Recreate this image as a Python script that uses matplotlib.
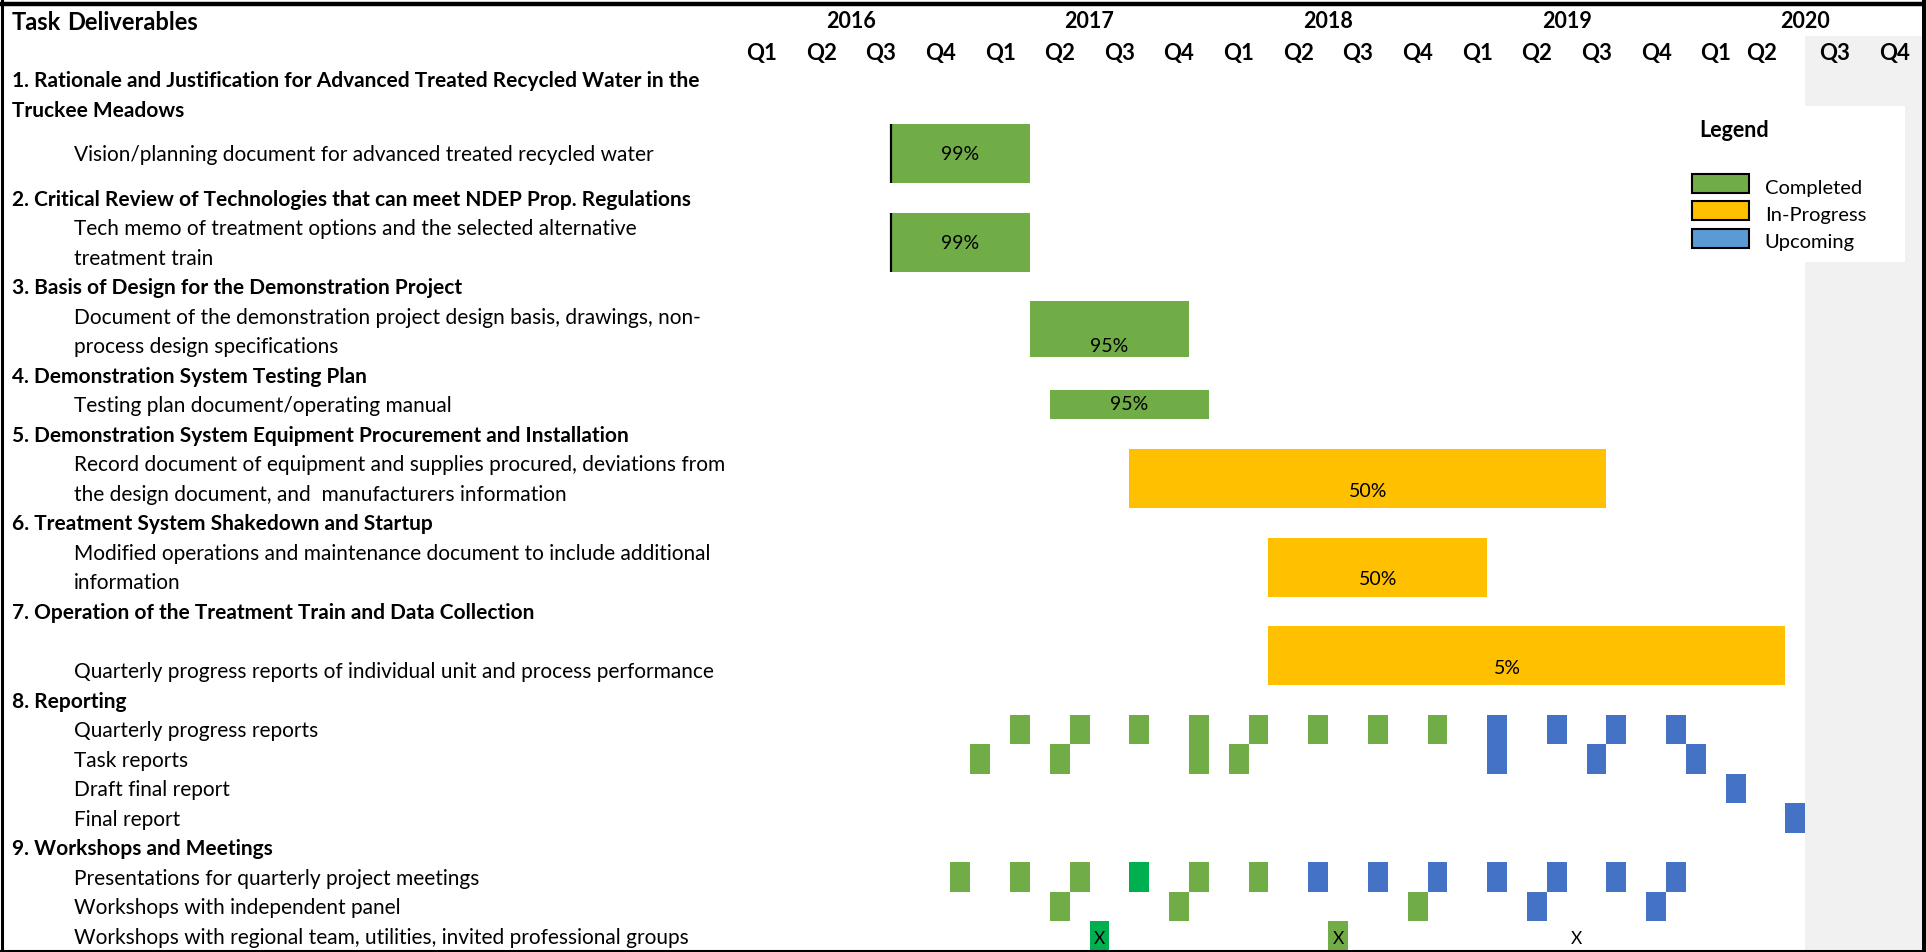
import matplotlib
matplotlib.use("Agg")
import matplotlib.pyplot as plt
from matplotlib.patches import Rectangle

plt.rcParams['font.family'] = ['Lato', 'DejaVu Sans']

GREEN = "#70AD47"
BRIGHT = "#00B050"
YELLOW = "#FFC000"
BLUE = "#4472C4"
LEG_BLUE = "#5B9BD5"
GREY = "#F1F1F1"

# months counted from Jan 2016 (0) ; rows counted from the top of the table
years = ["2016", "2017", "2018", "2019", "2020"]
quarters = ["Q1", "Q2", "Q3", "Q4"] * 5

# left column: (row, text, bold)
task_lines = [
    (2, "1. Rationale and Justification for Advanced Treated Recycled Water in the", True),
    (3, "Truckee Meadows", True),
    (4.5, "Vision/planning document for advanced treated recycled water", False),
    (6, "2. Critical Review of Technologies that can meet NDEP Prop. Regulations", True),
    (7, "Tech memo of treatment options and the selected alternative", False),
    (8, "treatment train", False),
    (9, "3. Basis of Design for the Demonstration Project", True),
    (10, "Document of the demonstration project design basis, drawings, non-", False),
    (11, "process design specifications", False),
    (12, "4. Demonstration System Testing Plan", True),
    (13, "Testing plan document/operating manual", False),
    (14, "5. Demonstration System Equipment Procurement and Installation", True),
    (15, "Record document of equipment and supplies procured, deviations from", False),
    (16, "the design document, and  manufacturers information", False),
    (17, "6. Treatment System Shakedown and Startup", True),
    (18, "Modified operations and maintenance document to include additional", False),
    (19, "information", False),
    (20, "7. Operation of the Treatment Train and Data Collection", True),
    (22, "Quarterly progress reports of individual unit and process performance", False),
    (23, "8. Reporting", True),
    (24, "Quarterly progress reports", False),
    (25, "Task reports", False),
    (26, "Draft final report", False),
    (27, "Final report", False),
    (28, "9. Workshops and Meetings", True),
    (29, "Presentations for quarterly project meetings", False),
    (30, "Workshops with independent panel", False),
    (31, "Workshops with regional team, utilities, invited professional groups", False),
]

# deliverable bars
bar_rows    = [4, 7, 10, 13, 15, 18, 21]
bar_heights = [2, 2, 1.9, 1, 2, 2, 2]
bar_start   = [8, 8, 15, 16, 20, 27, 27]
bar_end     = [15, 15, 23, 24, 44, 38, 53]
bar_status  = ["done", "done", "done", "done", "prog", "prog", "prog"]
bar_pct     = ["99%", "99%", "95%", "95%", "50%", "50%", "5%"]
pct_x       = [11.5, 11.5, 19, 20, 32, 32.5, 39]
pct_y       = [5.0, 8.0, 11.5, 13.45, 16.4, 19.4, 22.4]

# one-month milestones: row -> months
qpr_done, qpr_next = [14, 17, 20, 23, 26, 29, 32, 35], [38, 41, 44, 47]
task_done, task_next = [12, 16, 23, 25], [38, 43, 48]
draft_next = [50]
final_next = [53]
pres_done, pres_hi, pres_next = [11, 14, 17, 23, 26], [20], [29, 32, 35, 38, 41, 44, 47]
panel_done, panel_next = [16, 22, 34], [40, 46]
regional_hi, regional_done, regional_open = [18], [30], [42]

fig = plt.figure(figsize=(19.26, 9.53), dpi=100)
ax = fig.add_axes([0, 0, 1, 1])
px = 19.88
x0 = 731.7
ax.set_xlim(-x0 / px, (1926 - x0) / px)
ax.set_ylim((953 - 7) / 29.53, -7 / 29.53)
ax.axis("off")

# shaded future columns and legend box
ax.add_patch(Rectangle((54, 1.02), 7, 32, color=GREY, lw=0, zorder=0))
ax.add_patch(Rectangle((47, 3.39), 12.02, 5.28, color="white", lw=0, zorder=0.5))

colors = {"done": GREEN, "prog": YELLOW}
for r, h, a, b, s in zip(bar_rows, bar_heights, bar_start, bar_end, bar_status):
    ax.barh(r, b - a, left=a, height=h, align="edge", color=colors[s], zorder=2)
ax.vlines([8, 8], [4, 7], [6, 9], color="black", lw=1.6, zorder=3)
for t, x, y in zip(bar_pct, pct_x, pct_y):
    ax.text(x, y, t, ha="center", va="center", fontsize=14, zorder=4)


def cells(months, row, color):
    ax.bar(months, 1, width=1, bottom=row, align="edge", color=color, zorder=2)


cells(qpr_done, 24, GREEN)
cells(qpr_next, 24, BLUE)
cells(task_done, 25, GREEN)
cells(task_next, 25, BLUE)
cells(draft_next, 26, BLUE)
cells(final_next, 27, BLUE)
cells(pres_done, 29, GREEN)
cells(pres_hi, 29, BRIGHT)
cells(pres_next, 29, BLUE)
cells(panel_done, 30, GREEN)
cells(panel_next, 30, BLUE)
cells(regional_hi, 31, BRIGHT)
cells(regional_done, 31, GREEN)
for m in regional_hi + regional_done + regional_open:
    ax.text(m + 0.5, 31.55, "X", ha="center", va="center", fontsize=12.5, zorder=4)

# header
for i, y in enumerate(years):
    ax.text(6 + 12 * i, 0.5, y, ha="center", va="center", fontsize=15.5, fontweight="bold")
q_nudge = {17: -0.7}
for i, q in enumerate(quarters):
    ax.text(3 * i + 1.5 + q_nudge.get(i, 0), 1.56, q, ha="center", va="center",
            fontsize=16, fontweight="bold")

tr = ax.get_yaxis_transform()
ax.text(12 / 1926, 0.52, "Task", transform=tr, va="center", fontsize=17, fontweight="bold")
ax.text(67 / 1926, 0.52, "Deliverables", transform=tr, va="center", fontsize=17, fontweight="bold")
for r, t, b in task_lines:
    x = 12 / 1926 if b else 74 / 1926
    ax.text(x, r + 0.52, t, transform=tr, va="center", fontsize=15,
            fontweight="bold" if b else "normal")

# legend
ax.text(50.4, 4.17, "Legend", ha="center", va="center", fontsize=15.5, fontweight="bold")
leg_labels = ["Completed", "In-Progress", "Upcoming"]
leg_colors = [GREEN, YELLOW, LEG_BLUE]
for i, (lab, c) in enumerate(zip(leg_labels, leg_colors)):
    ax.add_patch(Rectangle((48.3, 5.69 + 0.93 * i), 2.88, 0.64, facecolor=c,
                           edgecolor="black", lw=1.5, zorder=3))
    ax.text(51.97, 6.13 + 0.93 * i, lab, va="center", fontsize=14.5)

# table frame
fig.add_artist(plt.Line2D([0, 1], [1 - 5 / 953] * 2, color="black", lw=3.2))
fig.add_artist(plt.Line2D([1.5 / 1926] * 2, [0, 1], color="black", lw=2.2))
fig.add_artist(plt.Line2D([1923.5 / 1926] * 2, [0, 1], color="black", lw=3.6))
fig.add_artist(plt.Line2D([0, 1], [1.5 / 953] * 2, color="black", lw=2.2))

fig.savefig("out.png", dpi=100)
